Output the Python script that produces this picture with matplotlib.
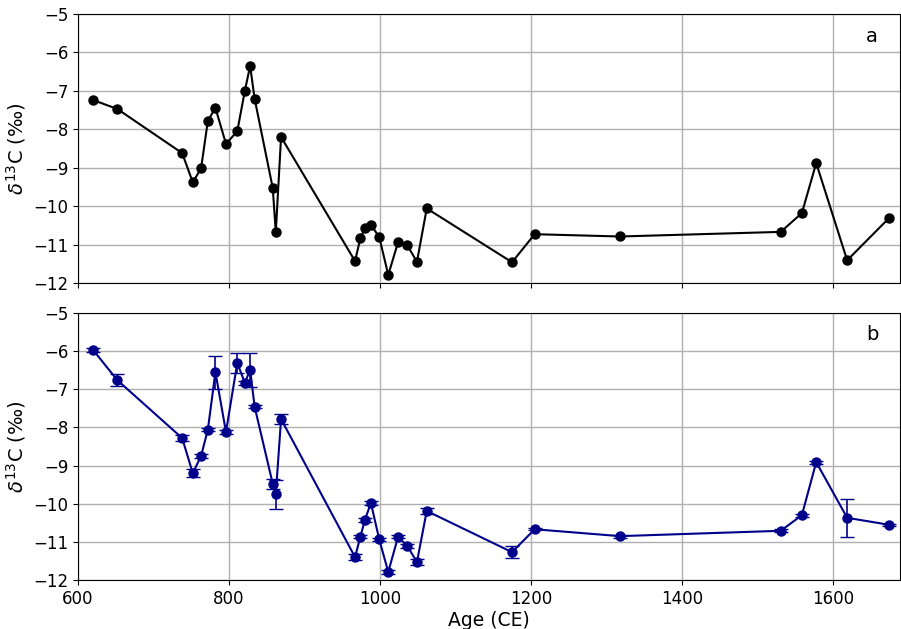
import matplotlib.pyplot as plt

# ages (CE) shared by both records
age = [620, 652, 738, 752, 763, 772, 782, 796, 811, 821, 828, 834, 858, 862,
       869, 967, 974, 980, 988, 999, 1011, 1024, 1036, 1049, 1062, 1175, 1205,
       1318, 1531, 1559, 1578, 1619, 1674]

# record a
d13c_a = [-7.24, -7.47, -8.62, -9.38, -9.02, -7.78, -7.44, -8.38, -8.05, -7.00,
          -6.35, -7.21, -9.53, -10.68, -8.20, -11.43, -10.84, -10.57, -10.49,
          -10.80, -11.79, -10.94, -11.01, -11.45, -10.06, -11.46, -10.73,
          -10.79, -10.67, -10.18, -8.88, -11.41, -10.32]

# record b with errors
d13c_b = [-5.97, -6.76, -8.28, -9.20, -8.75, -8.06, -6.55, -8.12, -6.31, -6.83,
          -6.49, -7.46, -9.48, -9.75, -7.78, -11.40, -10.87, -10.43, -9.98,
          -10.93, -11.79, -10.87, -11.10, -11.53, -10.19, -11.27, -10.67,
          -10.85, -10.71, -10.30, -8.91, -10.37, -10.55]
err_b = [0.05, 0.15, 0.08, 0.10, 0.06, 0.04, 0.43, 0.04, 0.27, 0.05,
         0.44, 0.04, 0.13, 0.38, 0.14, 0.08, 0.04, 0.05, 0.05,
         0.04, 0.05, 0.04, 0.05, 0.08, 0.08, 0.15, 0.03,
         0.04, 0.04, 0.04, 0.04, 0.49, 0.03]

fig = plt.figure(figsize=(9.01, 6.29), dpi=100)
ax1 = fig.add_axes([0.0866, 0.5501, 0.9123, 0.4276])
ax2 = fig.add_axes([0.0866, 0.0779, 0.9123, 0.4245], sharex=ax1)

ax1.plot(age, d13c_a, 'k-o', lw=1.5, ms=6.5)
ax2.errorbar(age, d13c_b, yerr=err_b, color='darkblue', marker='o', ms=6.5,
             lw=1.5, capsize=5, elinewidth=1.2)

for ax, lab in [(ax1, 'a'), (ax2, 'b')]:
    ax.set_ylim(-12, -5)
    ax.set_xlim(600, 1689)
    ax.grid(True, color='#b0b0b0', lw=1)
    ax.set_axisbelow(True)
    ax.tick_params(labelsize=12)
    ax.set_ylabel(r'$\delta^{13}$C (‰)', fontsize=14)
    ax.text(0.966, 0.918, lab, transform=ax.transAxes, fontsize=14,
            ha='center', va='center')

ax1.tick_params(labelbottom=False)
ax2.set_xticks([600, 800, 1000, 1200, 1400, 1600])
ax2.set_xlabel('Age (CE)', fontsize=13.5, labelpad=2)

fig.savefig('out.png', dpi=100)
